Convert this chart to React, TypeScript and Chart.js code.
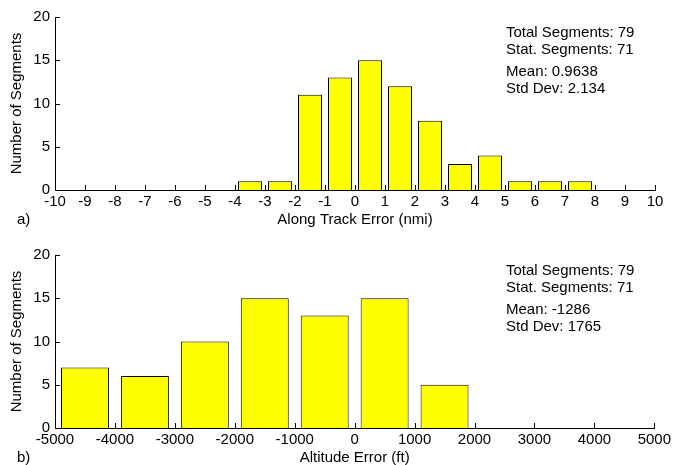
import React, { useEffect, useRef } from 'react';
import { Chart, registerables } from 'chart.js';
Chart.register(...registerables);

// ---- data ----
const trackBinCenters = [-3.5, -2.5, -1.5, -0.5, 0.5, 1.5, 2.5, 3.5, 4.5, 5.5, 6.5, 7.5];
const trackCounts = [1, 1, 11, 13, 15, 12, 8, 3, 4, 1, 1, 1];
const trackStats = ['Total Segments: 79', 'Stat. Segments: 71', 'Mean: 0.9638', 'Std Dev: 2.134'];
const trackRange = [-10, 10, 1];

const altBinCenters = [-4500, -3500, -2500, -1500, -500, 500, 1500];
const altCounts = [7, 6, 10, 15, 13, 15, 5];
const altStats = ['Total Segments: 79', 'Stat. Segments: 71', 'Mean: -1286', 'Std Dev: 1765'];
const altRange = [-5000, 5000, 1000];

const yRange = [0, 20, 5];
const yTitle = 'Number of Segments';

const FONT = "'Liberation Sans', Arial, Helvetica, sans-serif";

type HistProps = {
  centers: number[];
  counts: number[];
  range: number[];
  xTitle: string;
  stats: string[];
  tag: string;
};

function Histogram({ centers, counts, range, xTitle, stats, tag }: HistProps) {
  const ref = useRef<HTMLCanvasElement | null>(null);
  useEffect(() => {
    if (!ref.current) return;
    const overlay = {
      id: 'overlay',
      afterDatasetsDraw(chart: any) {
        const { ctx, chartArea, scales } = chart;
        const x = scales.x;
        const y = scales.y;
        ctx.save();
        ctx.strokeStyle = '#000';
        ctx.lineWidth = 1;
        ctx.beginPath();
        x.ticks.forEach((t: any) => {
          const px = Math.round(x.getPixelForValue(t.value)) + 0.5;
          ctx.moveTo(px, chartArea.bottom);
          ctx.lineTo(px, chartArea.bottom - 5);
        });
        y.ticks.forEach((t: any) => {
          const py = Math.round(y.getPixelForValue(t.value)) + 0.5;
          ctx.moveTo(chartArea.left, py);
          ctx.lineTo(chartArea.left + 5, py);
        });
        ctx.stroke();
        ctx.fillStyle = '#000';
        ctx.font = `15px ${FONT}`;
        ctx.textAlign = 'left';
        ctx.textBaseline = 'alphabetic';
        const ys = [37, 54, 76, 93];
        stats.forEach((s, i) => ctx.fillText(s, 506, ys[i]));
        ctx.textBaseline = 'middle';
        ctx.fillText(tag, 17, 220);
        ctx.restore();
      },
    };
    const chart = new Chart(ref.current, {
      type: 'bar',
      data: {
        datasets: [
          {
            data: centers.map((c, i) => ({ x: c, y: counts[i] })),
            backgroundColor: '#ffff00',
            borderColor: '#000',
            borderWidth: 1,
            categoryPercentage: 1,
            barPercentage: 0.8,
          } as any,
        ],
      },
      options: {
        animation: false,
        responsive: false,
        layout: { padding: { top: 17, right: 19, left: 0, bottom: 0 } },
        plugins: { legend: { display: false }, tooltip: { enabled: false } },
        font: { family: FONT, size: 15 } as any,
        scales: {
          x: {
            type: 'linear',
            offset: false,
            min: range[0],
            max: range[1],
            grid: { display: false, drawTicks: false },
            border: { display: true, color: '#000', width: 1 },
            ticks: {
              stepSize: range[2],
              autoSkip: false,
              maxRotation: 0,
              padding: 3,
              color: '#000',
              font: { family: FONT, size: 15 },
              callback: (v: any) => String(v),
            },
            title: {
              display: true,
              text: xTitle,
              color: '#000',
              font: { family: FONT, size: 15 },
              padding: { top: 0, bottom: 11 },
            },
            afterFit: (s: any) => {
              s.height = 50;
            },
          },
          y: {
            min: yRange[0],
            max: yRange[1],
            grid: { display: false, drawTicks: false },
            border: { display: true, color: '#000', width: 1 },
            ticks: {
              stepSize: yRange[2],
              padding: 5,
              color: '#000',
              font: { family: FONT, size: 15 },
              callback: (v: any) => String(v),
            },
            title: {
              display: true,
              text: yTitle,
              color: '#000',
              font: { family: FONT, size: 15 },
              padding: { top: 8, bottom: 0 },
            },
            afterFit: (s: any) => {
              s.width = 55;
            },
          },
        },
      } as any,
      plugins: [overlay],
    });
    return () => chart.destroy();
  }, []);
  return <canvas ref={ref} width={674} height={240} />;
}

export default function App() {
  return (
    <div
      style={{
        position: 'fixed',
        left: 0,
        top: 0,
        width: 674,
        height: 465,
        overflow: 'hidden',
        background: '#fff',
      }}
    >
      <div style={{ position: 'absolute', left: 0, top: 0 }}>
        <Histogram
          centers={trackBinCenters}
          counts={trackCounts}
          range={trackRange}
          xTitle="Along Track Error (nmi)"
          stats={trackStats}
          tag="a)"
        />
      </div>
      <div style={{ position: 'absolute', left: 0, top: 238 }}>
        <Histogram
          centers={altBinCenters}
          counts={altCounts}
          range={altRange}
          xTitle="Altitude Error (ft)"
          stats={altStats}
          tag="b)"
        />
      </div>
    </div>
  );
}
